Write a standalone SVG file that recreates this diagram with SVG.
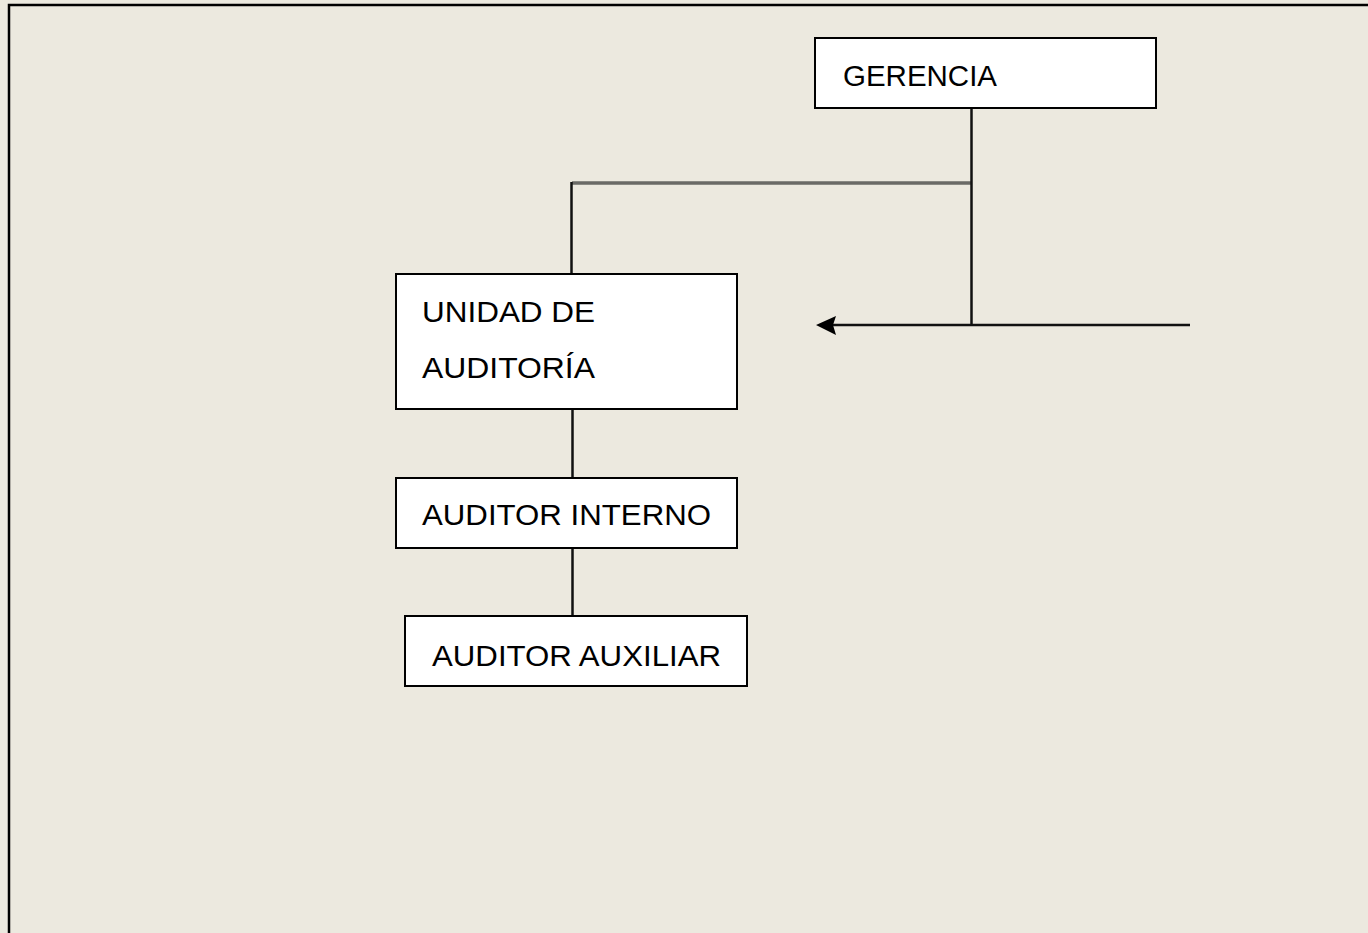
<svg xmlns="http://www.w3.org/2000/svg" width="1368" height="933" viewBox="0 0 1368 933">
  <style>
    .box { fill: #ffffff; stroke: #000000; stroke-width: 2; }
    .lbl { font-family: "Liberation Sans", Arial, sans-serif; font-size: 29px; fill: #000000; }
    .ln { stroke: #111111; stroke-width: 2.5; fill: none; }
    .ln-gray { stroke: #6a6a66; stroke-width: 3.5; fill: none; }
    .head { fill: #000000; }
  </style>

  <!-- page background and frame -->
  <rect x="0" y="0" width="1368" height="933" fill="#ece9df"/>
  <path d="M9,935 V5 H1370" fill="none" stroke="#000000" stroke-width="2.5"/>

  <!-- connectors -->
  <g id="connectors">
    <line class="ln-gray" x1="572" y1="183" x2="971" y2="183"/>
    <line class="ln" x1="571.5" y1="182" x2="571.5" y2="274"/>
    <line class="ln" x1="971.5" y1="108" x2="971.5" y2="325"/>
    <line class="ln" x1="1190" y1="325" x2="830" y2="325"/>
    <path class="head" d="M816,325 L836,316 L833,325 L836,335 Z"/>
    <line class="ln" x1="572.5" y1="409" x2="572.5" y2="478"/>
    <line class="ln" x1="572.5" y1="548" x2="572.5" y2="616"/>
  </g>

  <g id="gerencia">
    <rect class="box" x="815" y="38" width="341" height="70"/>
    <text class="lbl" x="843" y="86" textLength="154" lengthAdjust="spacingAndGlyphs">GERENCIA</text>
  </g>

  <g id="unidad-auditoria">
    <rect class="box" x="396" y="274" width="341" height="135"/>
    <text class="lbl" x="422" y="322" textLength="173" lengthAdjust="spacingAndGlyphs">UNIDAD DE</text>
    <text class="lbl" x="422" y="378" textLength="173" lengthAdjust="spacingAndGlyphs">AUDITORÍA</text>
  </g>

  <g id="auditor-interno">
    <rect class="box" x="396" y="478" width="341" height="70"/>
    <text class="lbl" x="422" y="525" textLength="289" lengthAdjust="spacingAndGlyphs">AUDITOR INTERNO</text>
  </g>

  <g id="auditor-auxiliar">
    <rect class="box" x="405" y="616" width="342" height="70"/>
    <text class="lbl" x="432" y="666" textLength="289" lengthAdjust="spacingAndGlyphs">AUDITOR AUXILIAR</text>
  </g>
</svg>
